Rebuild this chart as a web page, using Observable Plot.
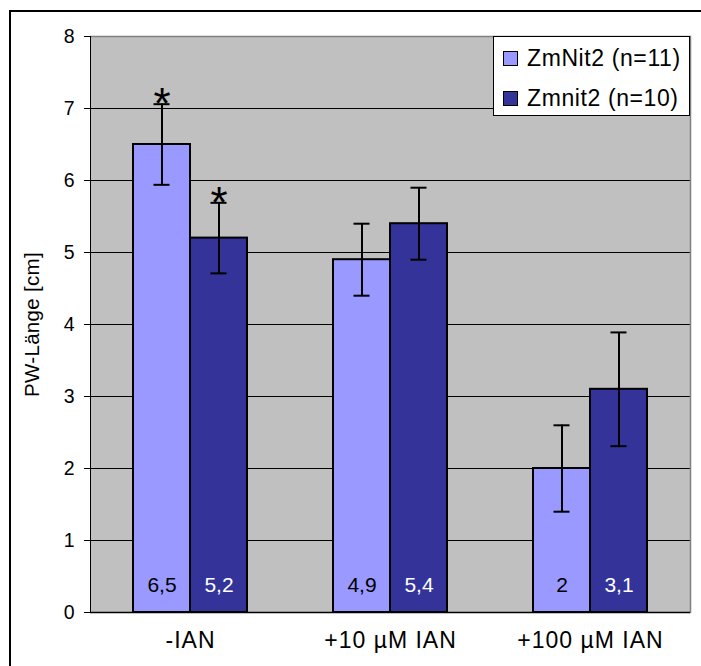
<!DOCTYPE html>
<html><head><meta charset="utf-8">
<script src="https://cdn.jsdelivr.net/npm/d3@7"></script>
<script src="https://cdn.jsdelivr.net/npm/@observablehq/plot@0.6"></script>
<style>
body{margin:0;background:#fff;font-family:"Liberation Sans",Arial,sans-serif;}
#wrap{position:relative;width:701px;height:666px;overflow:hidden}
#border{position:absolute;left:9px;top:10px;width:800px;height:800px;border-top:2px solid #000;border-left:2px solid #000;pointer-events:none}
#legend{position:absolute;left:493px;top:36px;width:197px;height:80px;background:#fff;border:1px solid #000;box-sizing:border-box}
.row{position:absolute;left:9px;height:26px;display:flex;align-items:center;font-size:23px;letter-spacing:0.6px;color:#000;white-space:nowrap}
.sw{width:15px;height:15px;border:1px solid #000;box-sizing:border-box;margin-right:9px}
#chart g[aria-label="y-axis tick label"], #chart g[aria-label="y-axis tick label"] text{font-size:19.5px !important}
#chart g[aria-label="y-axis label"], #chart g[aria-label="y-axis label"] text{font-size:20.5px !important;letter-spacing:0.3px}
#chart g[aria-label="fx-axis tick label"], #chart g[aria-label="fx-axis tick label"] text{font-size:23px !important;letter-spacing:1px}
</style></head>
<body>
<div id="wrap"><div id="chart"></div><div id="border"></div>
<div id="legend"></div></div>
<script>
const groups = ["-IAN", "+10 µM IAN", "+100 µM IAN"];
const seriesKeys = ["ZmNit2", "Zmnit2"];
const seriesLabels = ["ZmNit2 (n=11)", "Zmnit2 (n=10)"];
const seriesColors = ["#9999ff", "#333399"];
const zmNit2 = [6.5, 4.9, 2.0];
const zmNit2Err = [0.56, 0.5, 0.6];
const zmnit2 = [5.2, 5.4, 3.1];
const zmnit2Err = [0.49, 0.5, 0.79];
const zmNit2Sig = [true, false, false];
const zmnit2Sig = [true, false, false];
const yTicks = [0, 1, 2, 3, 4, 5, 6, 7, 8];

const data = [];
groups.forEach((g, i) => {
  data.push({group: g, key: seriesKeys[0], value: zmNit2[i], err: zmNit2Err[i], sig: zmNit2Sig[i]});
  data.push({group: g, key: seriesKeys[1], value: zmnit2[i], err: zmnit2Err[i], sig: zmnit2Sig[i]});
});
const fmt = v => String(v).replace(".", ",");
const font = "'Liberation Sans', Arial, sans-serif";

const chart = Plot.plot({
  width: 701, height: 666,
  marginLeft: 89, marginRight: 11, marginTop: 36, marginBottom: 54,
  style: {fontFamily: font, background: "transparent", color: "#000", fontSize: "19px"},
  fx: {domain: groups, padding: 0},
  x: {domain: seriesKeys, paddingInner: 0, paddingOuter: 0.739},
  y: {domain: [0, 8]},
  color: {domain: seriesKeys, range: seriesColors},
  marks: [
    Plot.frame({fill: "#c0c0c0", stroke: "#c0c0c0", strokeWidth: 1}),
    Plot.gridY(yTicks.filter(t => t > 0 && t < 8), {stroke: "#000", strokeOpacity: 1, strokeWidth: 1}),
    Plot.ruleY([8], {stroke: "#808080", strokeWidth: 1.5}),
    Plot.frame({anchor: "right", facetAnchor: "right", stroke: "#808080", strokeWidth: 1.5}),
    Plot.frame({anchor: "left", facetAnchor: "left", stroke: "#000", strokeWidth: 1}),
    Plot.ruleY([0], {stroke: "#000", strokeWidth: 1.5}),
    Plot.barY(data, {fx: "group", x: "key", y: "value", fill: "key", stroke: "#000", strokeWidth: 2}),
    Plot.ruleX(data, {fx: "group", x: "key", y1: d => d.value - d.err, y2: d => d.value + d.err, stroke: "#000", strokeWidth: 2}),
    Plot.tickY(data, {fx: "group", x: "key", y: d => d.value + d.err, stroke: "#000", strokeWidth: 2, insetLeft: 20.5, insetRight: 20.5}),
    Plot.tickY(data, {fx: "group", x: "key", y: d => d.value - d.err, stroke: "#000", strokeWidth: 2, insetLeft: 20.5, insetRight: 20.5}),
    Plot.text(data.filter(d => d.key === seriesKeys[0]), {fx: "group", x: "key", y: () => 0, text: d => fmt(d.value), fill: "#000", fontSize: 21, dy: -27}),
    Plot.text(data.filter(d => d.key === seriesKeys[1]), {fx: "group", x: "key", y: () => 0, text: d => fmt(d.value), fill: "#fff", fontSize: 21, dy: -27}),
    Plot.text(data.filter(d => d.sig), {fx: "group", x: "key", y: d => d.value + d.err, text: () => "*", fill: "#000", fontSize: 44, dy: 1}),
    Plot.axisY({ticks: yTicks, tickSize: 6, tickPadding: 10, fontSize: 19.5, label: "PW-Länge [cm]", labelAnchor: "center", labelArrow: "none", labelOffset: 66}),
    Plot.axisFx({anchor: "bottom", tickSize: 0, tickPadding: 19, label: null}),
    Plot.axisX({ticks: [], label: null, tickSize: 0})
  ]
});
document.getElementById("chart").appendChild(chart);

const legend = document.getElementById("legend");
seriesLabels.forEach((lab, i) => {
  const row = document.createElement("div");
  row.className = "row";
  row.style.top = (i === 0 ? 8 : 48) + "px";
  const sw = document.createElement("div");
  sw.className = "sw";
  sw.style.background = seriesColors[i];
  row.appendChild(sw);
  const t = document.createElement("span");
  t.textContent = lab;
  row.appendChild(t);
  legend.appendChild(row);
});
</script>
</body></html>
